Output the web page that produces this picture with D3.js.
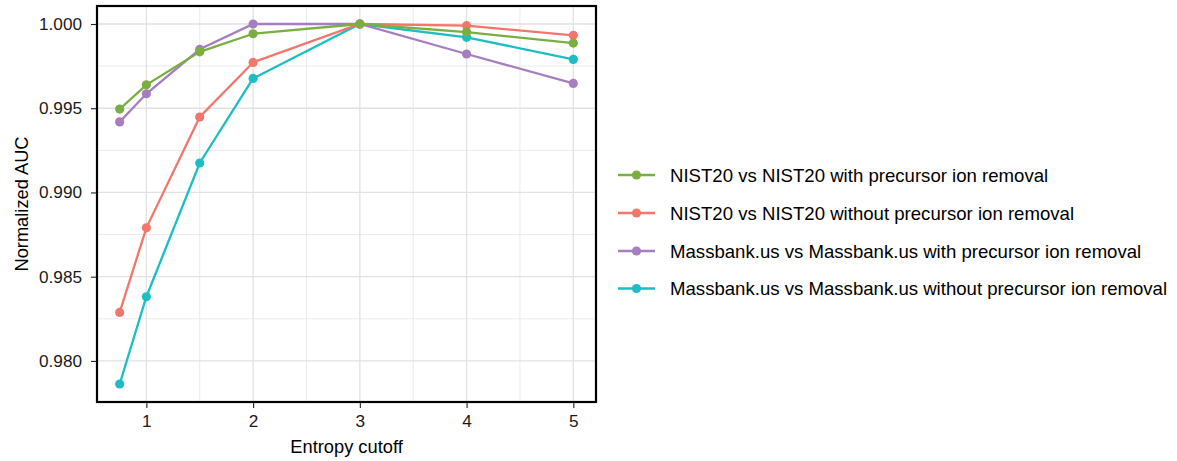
<!DOCTYPE html>
<html>
<head>
<meta charset="utf-8">
<script src="https://cdn.jsdelivr.net/npm/d3@7"></script>
<style>
    body { margin: 0; background: #fff; }
    text { font-family: "Liberation Sans", Arial, Helvetica, sans-serif; }
</style>
</head>
<body>
<svg id="chart"></svg>
<script>
"use strict";

// entropy cutoffs on the x axis
const cutoffs = [0.75, 1, 1.5, 2, 3, 4, 5];

// normalized AUC per series
const nistWith = [0.99495, 0.99639, 0.99835, 0.99942, 1.0, 0.99952, 0.99887];
const nistWithout = [0.98288, 0.9879, 0.99448, 0.99772, 1.0, 0.9999, 0.99933];
const massbankWith = [0.99419, 0.99586, 0.9985, 1.0, 1.0, 0.99822, 0.99647];
const massbankWithout = [0.97863, 0.98381, 0.99175, 0.99677, 1.0, 0.99921, 0.9979];

const seriesNames = [
    "NIST20 vs NIST20 with precursor ion removal",
    "NIST20 vs NIST20 without precursor ion removal",
    "Massbank.us vs Massbank.us with precursor ion removal",
    "Massbank.us vs Massbank.us without precursor ion removal"
];
const seriesColors = ["#7BAE41", "#F3766C", "#A67EC0", "#1CBEC4"];

const xTicks = [1, 2, 3, 4, 5];
const yTicks = [0.980, 0.985, 0.990, 0.995, 1.000];

const width = 1177;
const height = 461;
const panel = { left: 97, top: 6, right: 596, bottom: 402 };

const svg = d3.select("#chart")
    .attr("width", width)
    .attr("height", height);

// ggplot style 5% expansion on both axes
const allY = [].concat(nistWith, nistWithout, massbankWith, massbankWithout);
const xMin = d3.min(cutoffs), xMax = d3.max(cutoffs);
const yMin = d3.min(allY), yMax = d3.max(allY);
const xPad = (xMax - xMin) * 0.05;
const yPad = (yMax - yMin) * 0.05;

const x = d3.scaleLinear()
    .domain([xMin - xPad, xMax + xPad])
    .range([panel.left, panel.right]);

const y = d3.scaleLinear()
    .domain([yMin - yPad, yMax + yPad])
    .range([panel.bottom, panel.top]);

const grid = svg.append("g");

// minor grid lines halfway between majors
const xMinor = [1.5, 2.5, 3.5, 4.5];
const yMinor = [0.9775, 0.9825, 0.9875, 0.9925, 0.9975];

grid.selectAll(".xminor")
    .data(xMinor)
    .enter()
    .append("line")
    .attr("x1", d => x(d)).attr("x2", d => x(d))
    .attr("y1", panel.top).attr("y2", panel.bottom)
    .attr("stroke", "#ebebeb")
    .attr("stroke-width", 1);

grid.selectAll(".yminor")
    .data(yMinor.filter(v => y(v) > panel.top && y(v) < panel.bottom))
    .enter()
    .append("line")
    .attr("x1", panel.left).attr("x2", panel.right)
    .attr("y1", d => y(d)).attr("y2", d => y(d))
    .attr("stroke", "#ebebeb")
    .attr("stroke-width", 1);

grid.selectAll(".xmajor")
    .data(xTicks)
    .enter()
    .append("line")
    .attr("x1", d => x(d)).attr("x2", d => x(d))
    .attr("y1", panel.top).attr("y2", panel.bottom)
    .attr("stroke", "#e2e2e2")
    .attr("stroke-width", 1.3);

grid.selectAll(".ymajor")
    .data(yTicks)
    .enter()
    .append("line")
    .attr("x1", panel.left).attr("x2", panel.right)
    .attr("y1", d => y(d)).attr("y2", d => y(d))
    .attr("stroke", "#e2e2e2")
    .attr("stroke-width", 1.3);

const series = [nistWith, nistWithout, massbankWith, massbankWithout];

const line = d3.line()
    .x((d, i) => x(cutoffs[i]))
    .y(d => y(d));

// draw in reverse so the first series sits on top, like the figure
const order = [3, 2, 1, 0];
order.forEach(k => {
    const g = svg.append("g");
    g.append("path")
        .datum(series[k])
        .attr("d", line)
        .attr("fill", "none")
        .attr("stroke", seriesColors[k])
        .attr("stroke-width", 2.3);
    g.selectAll("circle")
        .data(series[k])
        .enter()
        .append("circle")
        .attr("cx", (d, i) => x(cutoffs[i]))
        .attr("cy", d => y(d))
        .attr("r", 4.6)
        .attr("fill", seriesColors[k]);
});

// panel border
svg.append("rect")
    .attr("x", panel.left)
    .attr("y", panel.top)
    .attr("width", panel.right - panel.left)
    .attr("height", panel.bottom - panel.top)
    .attr("fill", "none")
    .attr("stroke", "#000")
    .attr("stroke-width", 2.2);

// axes
const xAxis = svg.append("g")
    .attr("transform", `translate(0, ${panel.bottom + 1})`)
    .call(d3.axisBottom(x).tickValues(xTicks).tickFormat(d3.format("d")).tickSize(5).tickPadding(7));

const yAxis = svg.append("g")
    .attr("transform", `translate(${panel.left - 1}, 0)`)
    .call(d3.axisLeft(y).tickValues(yTicks).tickFormat(d3.format(".3f")).tickSize(5).tickPadding(9));

[xAxis, yAxis].forEach(a => {
    a.select(".domain").remove();
    a.selectAll(".tick line").attr("stroke", "#222").attr("stroke-width", 1.1);
    a.selectAll(".tick text")
        .attr("fill", "#1a1a1a")
        .style("font-size", "17.2px");
});

svg.append("text")
    .attr("x", (panel.left + panel.right) / 2)
    .attr("y", 453)
    .attr("text-anchor", "middle")
    .style("font-size", "18.3px")
    .attr("fill", "#000")
    .text("Entropy cutoff");

svg.append("text")
    .attr("transform", `translate(28, ${(panel.top + panel.bottom) / 2}) rotate(-90)`)
    .attr("text-anchor", "middle")
    .style("font-size", "18.3px")
    .attr("fill", "#000")
    .text("Normalized AUC");

// legend
const legendRows = [175, 213, 251, 288.5];
const legend = svg.selectAll(".legend")
    .data(seriesNames)
    .enter()
    .append("g")
    .attr("class", "legend")
    .attr("transform", (d, i) => `translate(618, ${legendRows[i]})`);

legend.append("line")
    .attr("x1", 0).attr("x2", 37)
    .attr("stroke", (d, i) => seriesColors[i])
    .attr("stroke-width", 2.3);

legend.append("circle")
    .attr("cx", 18.5)
    .attr("r", 4.6)
    .attr("fill", (d, i) => seriesColors[i]);

legend.append("text")
    .attr("x", 52)
    .attr("dy", "0.36em")
    .style("font-size", "18.6px")
    .attr("fill", "#000")
    .text(d => d);
</script>
</body>
</html>
